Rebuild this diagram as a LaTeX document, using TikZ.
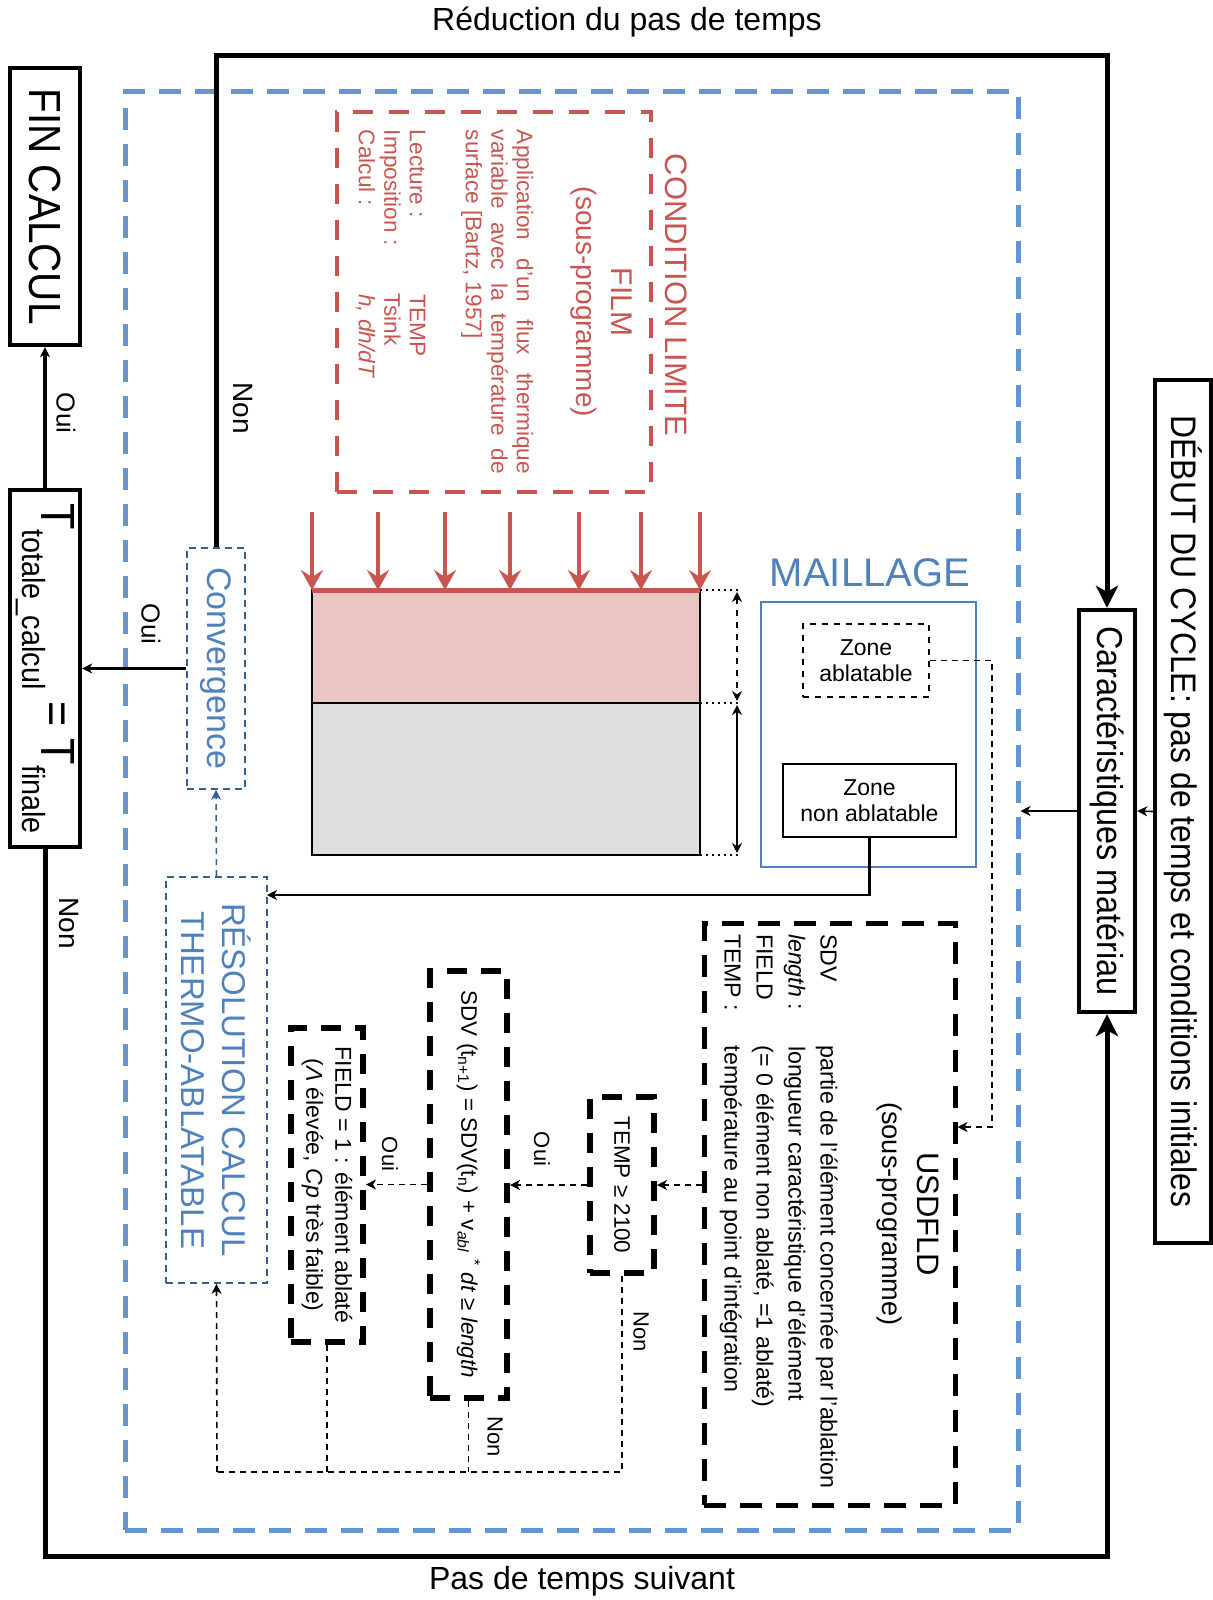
\documentclass[tikz,border=0pt]{standalone}
\usepackage{fontspec}
\setmainfont{Liberation Sans}
\usepackage{graphicx}
\usepackage{tikz}
\usetikzlibrary{arrows.meta, calc}
\definecolor{bleu}{RGB}{79,129,189}
\definecolor{bleuclair}{RGB}{100,150,205}
\definecolor{bleufonce}{RGB}{54,96,146}
\definecolor{rouge}{RGB}{200,85,80}
\definecolor{rose}{RGB}{235,196,196}
\definecolor{gris}{RGB}{222,222,222}

\newcommand{\vtexte}[1]{\rotatebox{-90}{#1}}
\newcommand{\etroit}[1]{\scalebox{0.9}[1]{#1}}
\newcommand{\taille}[2]{\fontsize{#1}{#2}\selectfont}

\tikzset{
    boite/.style={draw, line width=2.2pt, inner sep=0pt, fill=white},
    boitebleue/.style={draw=bleufonce, dash pattern=on 3.5pt off 2.5pt, line width=0.8pt, inner sep=0pt, text=bleu},
    sousprog/.style={draw, line width=2.5pt, dash pattern=on 11pt off 7pt, inner sep=0pt},
    testbox/.style={draw, line width=3pt, dash pattern=on 10pt off 7pt, inner sep=0pt},
    boucle/.style={line width=2.5pt, -{Stealth[length=11pt,width=11pt,inset=3pt]}},
    fleche/.style={-{Stealth[length=5pt,width=5pt,inset=1.5pt]}},
    lien/.style={line width=0.8pt, dash pattern=on 3pt off 2.5pt},
    flux/.style={rouge, line width=2pt, -{Stealth[length=10pt,width=11pt,inset=3.5pt]}}
}

\begin{document}
\begin{tikzpicture}[x=0.5pt, y=-0.5pt]
    \useasboundingbox (0,0) rectangle (1213,1600);

    % Cadre du calcul
    \node[draw=bleuclair, line width=2.5pt, dash pattern=on 11pt off 7pt, minimum width=446.5pt, minimum height=719pt, inner sep=0pt] (cadre) at (571.5,811) {};

    % Textes haut et bas
    \node[font=\taille{16}{19}] (reduc) at (627,22) {Réduction du pas de temps};
    \node[font=\taille{16}{19}] (suivant) at (582,1581) {Pas de temps suivant};

    % Boites principales
    \node[boite, minimum width=28pt, minimum height=431.5pt, font=\taille{17.75}{20}] (debut) at (1183,811.5) {\vtexte{\etroit{DÉBUT DU CYCLE: pas de temps et conditions initiales}}};
    \node[boite, minimum width=28pt, minimum height=201pt, font=\taille{18}{20}] (caract) at (1107,811) {\vtexte{\etroit{Caractéristiques matériau}}};
    \node[boite, minimum width=35pt, minimum height=138.5pt, font=\taille{22.5}{26}] (fin) at (45,206.5) {\vtexte{\etroit{FIN CALCUL}}};
    \node[boite, minimum width=35pt, minimum height=178.5pt, font=\taille{24}{26}] (ttot) at (45,668.5) {\vtexte{\etroit{T\raisebox{-0.4em}{\taille{16}{16}totale\_calcul} = T\raisebox{-0.4em}{\taille{16}{16}finale}}}};
    \node[boitebleue, minimum width=29pt, minimum height=120.5pt, font=\taille{17}{20}] (conv) at (216,668.5) {\vtexte{Convergence}};
    \node[boitebleue, minimum width=50.5pt, minimum height=203pt, font=\taille{16.5}{20.4}] (resol) at (216.5,1080) {\vtexte{\parbox{195pt}{\centering RÉSOLUTION CALCUL\\THERMO-ABLATABLE}}};

    % Condition limite
    \node[font=\taille{15.5}{18}, text=rouge] (titrecl) at (676,295) {\vtexte{CONDITION LIMITE}};
    \node[draw=rouge, line width=2.3pt, dash pattern=on 10pt off 8pt, minimum width=157pt, minimum height=190pt, inner sep=0pt, text=rouge] (film) at (494,302) {\vtexte{\parbox{172pt}{%
        {\centering\taille{15}{17.5}FILM\\\taille{14}{17.5}(sous-programme)\par}%
        \vspace{17pt}%
        \taille{11.3}{12.75}%
        \makebox[\linewidth][s]{Application d'un flux thermique}\\
        \makebox[\linewidth][s]{variable avec la température de}\\
        surface [Bartz, 1957]\\[15.25pt]
        \makebox[82pt][l]{Lecture :}TEMP\\
        \makebox[82pt][l]{Imposition :}Tsink\\
        \makebox[82pt][l]{Calcul :}\textit{h, dh/dT}}}};

    % Blocs de materiau
    \fill[rose] (312,590) rectangle (700,703);
    \fill[gris] (312,703) rectangle (700,855);
    \draw[line width=1.2pt] (312,590) rectangle (700,855) (312,703) -- (700,703);

    % Flux thermique
    \foreach \x in {312,378,445,510,579,641,700}
        \draw[flux] (\x,512) -- (\x,590);
    \draw[rouge, line width=2.5pt] (312,590) -- (700,590);

    % Cotes
    \foreach \y in {590,703,855}
        \draw[dotted, line width=1pt] (700,\y) -- (742,\y);
    \draw[dashed, line width=1pt, {Stealth[length=5pt,width=5pt]}-{Stealth[length=5pt,width=5pt]}] (737,592) -- (737,701);
    \draw[line width=1pt, {Stealth[length=5pt,width=5pt]}-{Stealth[length=5pt,width=5pt]}] (737,705) -- (737,853);

    % Maillage
    \node[font=\taille{20}{24}, text=bleu] (titremaill) at (870,573) {MAILLAGE};
    \node[draw=bleu, line width=0.9pt, minimum width=107.5pt, minimum height=132.5pt, inner sep=0pt] (maill) at (868.5,734.5) {};
    \node[draw, dashed, line width=0.9pt, minimum width=63pt, minimum height=36.5pt, inner sep=0pt, align=center, font=\taille{11.5}{13.3}] (zabl) at (866,660.5) {Zone\\ablatable};
    \node[draw, line width=0.9pt, minimum width=86.5pt, minimum height=36.5pt, inner sep=0pt, align=center, font=\taille{11.5}{13.3}] (znon) at (869.5,800.5) {Zone\\non ablatable};

    % USDFLD
    \node[sousprog, minimum width=125.5pt, minimum height=291pt] (usd) at (829.5,1214) {\vtexte{\parbox{280pt}{%
        {\centering\taille{15.5}{17.5}USDFLD\\\taille{13.6}{17.5}(sous-programme)\par}%
        \vspace{15pt}%
        \taille{11.6}{16}%
        \makebox[56pt][l]{SDV}partie de l'élément concernée par l'ablation\\
        \makebox[56pt][l]{\textit{length} :}longueur caractéristique d'élément\\
        \makebox[56pt][l]{FIELD}(= 0 élément non ablaté, =1 ablaté)\\
        \makebox[56pt][l]{TEMP :}température au point d'intégration}}};

    % Tests
    \node[testbox, minimum width=32pt, minimum height=88pt, font=\taille{11.2}{13}] (temp) at (622,1185) {\vtexte{TEMP ≥ 2100}};
    \node[testbox, minimum width=38.5pt, minimum height=213.5pt, font=\taille{11.2}{13}] (sdv) at (468.5,1184.5) {\vtexte{SDV (t\textsubscript{n+1}) = SDV(t\textsubscript{n}) + v\textsubscript{\textit{abl}} \textsuperscript{*} \textit{dt} ≥ \textit{length}}};
    \node[testbox, minimum width=36pt, minimum height=157pt, font=\taille{11.5}{14.5}] (field) at (327,1185) {\vtexte{\parbox{150pt}{\centering FIELD = 1 : élément ablaté\\(\textit{Λ} élevée, \textit{Cp} très faible)}}};

    % Boucle des pas de temps
    \coordinate (hautG) at (216,56);
    \coordinate (hautD) at (1107,56);
    \coordinate (basG) at (45,1556);
    \coordinate (basD) at (1107,1556);
    \draw[boucle] (conv.north) -- (hautG) -- (hautD) -- (caract.north);
    \draw[boucle] (ttot.south) -- (basG) -- (basD) -- (caract.south);
    \draw[fleche, line width=1.5pt] (conv.west) -- (ttot.east);
    \draw[fleche, line width=2pt] (ttot.north) -- (fin.south);
    \draw[fleche, line width=0.8pt] (debut.west) -- (caract.east);
    \draw[fleche, line width=0.8pt] (caract.west) -- (cadre.east);

    % Liens internes
    \coordinate (entree) at (267,895);
    \coordinate (coude) at (992,1127);
    \coordinate (retour) at (217,1472);
    \draw[fleche, line width=1.2pt] (znon.south) |- (entree);
    \draw[lien, fleche] (zabl.east) -| (coude) -- (coude -| usd.east);
    \draw[lien, fleche] (usd.west |- temp.east) -- (temp.east);
    \draw[lien, fleche] (temp.west) -- (sdv.east |- temp.west);
    \draw[lien, fleche] (sdv.west) -- (field.east |- sdv.west);
    \draw[lien] (temp.south) |- (retour);
    \draw[lien] (sdv.south) -- (sdv.south |- retour);
    \draw[lien] (field.south) -- (field.south |- retour);
    \draw[lien, fleche] (retour) -- (resol.south);
    \draw[lien, fleche, bleufonce] (resol.north) -- (conv.south);

    % Etiquettes
    \node[font=\taille{14}{16}] (nonconv) at (243,408) {\vtexte{Non}};
    \node[font=\taille{13}{15}] (ouifin) at (66,413) {\vtexte{Oui}};
    \node[font=\taille{13}{15}] (ouiconv) at (151,624) {\vtexte{Oui}};
    \node[font=\taille{14}{16}] (nontot) at (69,923) {\vtexte{Non}};
    \node[font=\taille{11}{13}] (ouitemp) at (542,1149) {\vtexte{Oui}};
    \node[font=\taille{11}{13}] (ouisdv) at (390,1154) {\vtexte{Oui}};
    \node[font=\taille{11}{13}] (nontemp) at (641,1332) {\vtexte{Non}};
    \node[font=\taille{11}{13}] (nonsdv) at (495,1437) {\vtexte{Non}};
\end{tikzpicture}
\end{document}
